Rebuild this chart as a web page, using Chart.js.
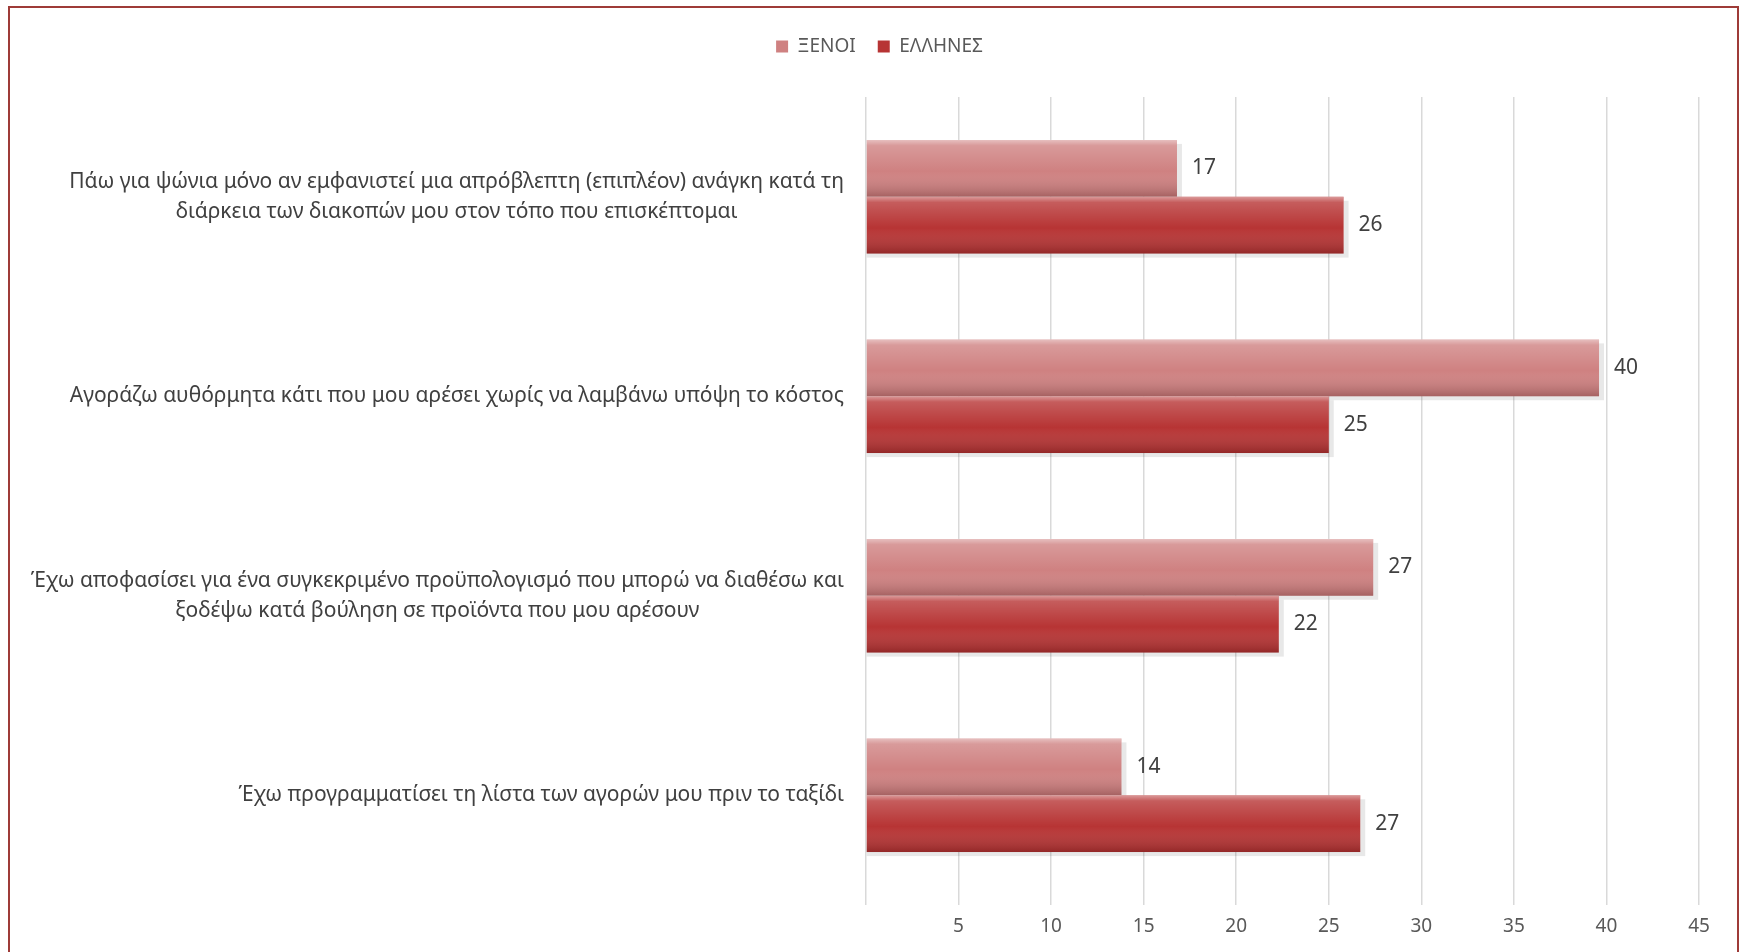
<!DOCTYPE html>
<html>
<head>
<meta charset="utf-8">
<script src="https://cdn.jsdelivr.net/npm/chart.js@4.4.1/dist/chart.umd.min.js"></script>
<style>
  body { margin: 0; background: #fff; }
  #frame { position: absolute; left: 8px; top: 6px; width: 1727px; height: 960px; border: 2px solid #9e3b38; border-bottom: none; }
  #wrap { position: absolute; left: 0; top: 0; width: 1741px; height: 952px; }
</style>
</head>
<body>
<div id="frame"></div>
<div id="wrap"><canvas id="myChart"></canvas></div>
<script>
// κατηγορίες (κάθε στοιχείο = γραμμές της ετικέτας)
var categories = [
  ["Πάω για ψώνια μόνο αν εμφανιστεί μια απρόβλεπτη (επιπλέον) ανάγκη κατά τη", "διάρκεια των διακοπών μου στον τόπο που επισκέπτομαι"],
  ["Αγοράζω αυθόρμητα κάτι που μου αρέσει χωρίς να λαμβάνω υπόψη το κόστος"],
  ["Έχω αποφασίσει για ένα συγκεκριμένο προϋπολογισμό που μπορώ να διαθέσω και", "ξοδέψω κατά βούληση σε προϊόντα που μου αρέσουν"],
  ["Έχω προγραμματίσει τη λίστα των αγορών μου πριν το ταξίδι"]
];
var seriesNames = ["ΞΕΝΟΙ", "ΕΛΛΗΝΕΣ"];
var xenoi = [16.8, 39.6, 27.4, 13.8];
var ellines = [25.8, 25.0, 22.3, 26.7];
var xMax = 45;
var xStep = 5;

var fontFam = '"Noto Sans", "Open Sans", sans-serif';

// σκιά κάτω από τις μπάρες και γυαλάδα από πάνω
var barLook = {
  id: "barLook",
  beforeInit: function(chart) {
    // λίγος χώρος ακόμα κάτω από το υπόμνημα
    var fit = chart.legend.fit;
    chart.legend.fit = function() {
      fit.bind(chart.legend)();
      this.height += 31;
    };
  },
  beforeDatasetsDraw: function(chart) {
    var ctx = chart.ctx;
    ctx.save();
    chart.data.datasets.forEach(function(ds, di) {
      chart.getDatasetMeta(di).data.forEach(function(el) {
        var p = el.getProps(["x", "y", "base", "height"], true);
        ctx.fillStyle = "rgba(0,0,0,0.09)";
        ctx.fillRect(p.base, p.y - p.height / 2 + 4, p.x - p.base + 5, p.height);
      });
    });
    ctx.restore();
  },
  afterDatasetsDraw: function(chart) {
    var ctx = chart.ctx;
    ctx.save();
    chart.data.datasets.forEach(function(ds, di) {
      chart.getDatasetMeta(di).data.forEach(function(el, i) {
        var p = el.getProps(["x", "y", "base", "height"], true);
        var top = p.y - p.height / 2;
        var g = ctx.createLinearGradient(0, top, 0, top + p.height);
        g.addColorStop(0, "rgba(255,255,255,0.5)");
        g.addColorStop(0.1, "rgba(255,255,255,0.2)");
        g.addColorStop(0.55, "rgba(255,255,255,0)");
        g.addColorStop(1, "rgba(40,0,0,0.25)");
        ctx.fillStyle = g;
        ctx.fillRect(p.base, top, p.x - p.base, p.height);
        // τιμή
        ctx.fillStyle = "#404040";
        ctx.font = "21px " + fontFam;
        ctx.textAlign = "left";
        ctx.textBaseline = "middle";
        ctx.fillText(Math.round(ds.data[i]), p.x + 15, p.y);
      });
    });
    ctx.restore();
  },
  afterDraw: function(chart) {
    // ετικέτες κατηγοριών: δεξιά στοίχιση, γραμμές κεντραρισμένες
    var ctx = chart.ctx;
    var y = chart.scales.y;
    var right = chart.chartArea.left - 22;
    ctx.save();
    ctx.font = "21px " + fontFam;
    ctx.fillStyle = "#404040";
    ctx.textAlign = "center";
    ctx.textBaseline = "middle";
    categories.forEach(function(lines, i) {
      var w = 0;
      lines.forEach(function(l) { w = Math.max(w, ctx.measureText(l).width); });
      var cy = y.getPixelForValue(i);
      var lh = 30;
      var y0 = cy - (lines.length - 1) * lh / 2;
      lines.forEach(function(l, k) {
        ctx.fillText(l, right - w / 2, y0 + k * lh);
      });
    });
    ctx.restore();
  }
};

var ctx = document.getElementById("myChart").getContext("2d");
var chart = new Chart(ctx, {
  type: "bar",
  plugins: [barLook],
  data: {
    labels: categories.map(function(c, i) { return "c" + i; }),
    datasets: [
      { label: seriesNames[0], data: xenoi, backgroundColor: "#cf8181", borderWidth: 0 },
      { label: seriesNames[1], data: ellines, backgroundColor: "#b73434", borderWidth: 0 }
    ]
  },
  options: {
    indexAxis: "y",
    responsive: true,
    maintainAspectRatio: false,
    animation: false,
    layout: { padding: { top: 15, right: 42, bottom: 0, left: 60 } },
    datasets: { bar: { barPercentage: 1, categoryPercentage: 0.57 } },
    plugins: {
      tooltip: { enabled: false },
      legend: {
        display: true,
        position: "top",
        labels: {
          boxWidth: 12, boxHeight: 12, padding: 22,
          color: "#595959",
          font: { family: fontFam, size: 19 }
        }
      }
    },
    scales: {
      x: {
        min: 0, max: xMax,
        border: { display: false },
        grid: { color: "#d9d9d9", lineWidth: 1.5, drawTicks: true, tickLength: 10, tickColor: "#d9d9d9" },
        ticks: {
          stepSize: xStep, padding: 10, color: "#595959",
          font: { family: fontFam, size: 19 },
          callback: function(v) { return v === 0 ? "" : v; }
        },
        afterFit: function(s) { s.height = 57; }
      },
      y: {
        border: { display: false },
        grid: { display: false },
        ticks: { color: "rgba(0,0,0,0)" },
        afterFit: function(s) { s.width = 806; }
      }
    }
  }
});
</script>
</body>
</html>
